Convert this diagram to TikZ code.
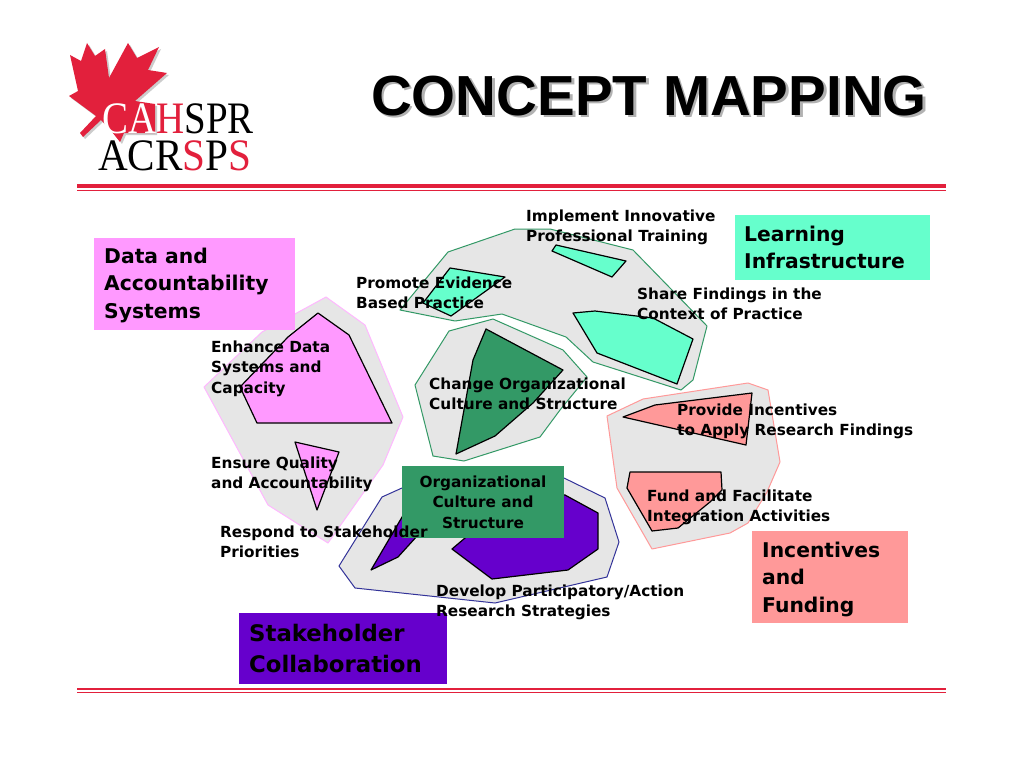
\documentclass[tikz,border=0pt]{standalone}
\usepackage{fontspec}
\setmainfont{DejaVu Sans}
\newfontfamily\titlefont{Liberation Sans}
\newfontfamily\logofont{Liberation Serif}
\usetikzlibrary{positioning}
\definecolor{rulered}{RGB}{226,32,60}
\definecolor{hullgray}{RGB}{230,230,230}
\definecolor{datapink}{RGB}{255,153,255}
\definecolor{learngreen}{RGB}{102,255,204}
\definecolor{orggreen}{RGB}{51,153,102}
\definecolor{fundsalmon}{RGB}{255,153,153}
\definecolor{stakepurple}{RGB}{102,0,204}
\definecolor{stakenavy}{RGB}{51,51,153}

\begin{document}
\begin{tikzpicture}[x=1pt,y=-1pt,line join=round]
    % Styles
    \tikzset{hull/.style={fill=hullgray,draw=#1,line width=1pt}}
    \tikzset{cluster/.style={fill=#1,draw=black,line width=1.2pt}}
    \tikzset{legend/.style={anchor=north west,inner sep=0pt,align=left,font=\bfseries\fontsize{20.3}{27.3}\selectfont}}
    \tikzset{term/.style={anchor=north west,inner sep=0pt,align=left,font=\bfseries\fontsize{15.3}{20.6}\selectfont}}
    \tikzset{logotext/.style={anchor=base west,inner sep=0pt,font=\logofont\fontsize{45}{45}\selectfont}}
    \tikzset{titletext/.style={inner sep=0pt,font=\titlefont\bfseries\fontsize{56.5}{58}\selectfont}}

    % Page
    \useasboundingbox (0,0) rectangle (1024,768);
    \fill[white] (0,0) rectangle (1024,768);

    % Logo
    \fill[gray!40,shift={(2,2)}] (70,55) -- (81,61) -- (87,43) -- (95,56) -- (105,49) -- (109,78) -- (128,43) -- (137,58) -- (159,47) -- (148,70) -- (167,73) -- (135,101) -- (155,104) -- (155,133) -- (124,133) -- (120,142) -- (112,132) -- (101,120) -- (83,137) -- (80,133) -- (96,116) -- (69,96) -- (78,91) -- cycle;
    \fill[rulered] (70,55) -- (81,61) -- (87,43) -- (95,56) -- (105,49) -- (109,78) -- (128,43) -- (137,58) -- (159,47) -- (148,70) -- (167,73) -- (135,101) -- (155,104) -- (155,133) -- (124,133) -- (120,142) -- (112,132) -- (101,120) -- (83,137) -- (80,133) -- (96,116) -- (69,96) -- (78,91) -- cycle;
    \node[logotext,xscale=0.865,text=white] (logoA) at (102,133) {CA\textcolor{rulered}{H}\textcolor{black}{SPR}};
    \node[logotext,xscale=0.915] (logoB) at (98,170) {ACR\textcolor{rulered}{S}P\textcolor{rulered}{S}};

    % Title
    \node[titletext,text=gray!60] (titleshadow) at (651.5,98.5) {CONCEPT MAPPING};
    \node[titletext] (title) at (649,96) {CONCEPT MAPPING};

    % Rules
    \fill[rulered] (77,184) rectangle (946,188);
    \fill[rulered] (77,190) rectangle (946,191);
    \fill[rulered] (77,688) rectangle (946,690);
    \fill[rulered] (77,692) rectangle (946,693);

    % Hulls
    \draw[hull=datapink!70!white] (204,387) -- (262,332) -- (326,297) -- (365,325) -- (403,417) -- (383,465) -- (328,543) -- (268,505) -- cycle;
    \draw[hull=orggreen] (400,310) -- (448,252) -- (515,229) -- (550,229) -- (633,250) -- (707,326) -- (693,380) -- (681,390) -- (593,362) -- (566,337) -- (502,314) -- (455,321) -- cycle;
    \draw[hull=orggreen] (415,385) -- (449,331) -- (493,319) -- (563,350) -- (587,377) -- (560,410) -- (540,437) -- (464,461) -- (433,456) -- cycle;
    \draw[hull=stakenavy] (339,566) -- (382,497) -- (402,488) -- (564,478) -- (605,498) -- (619,542) -- (607,577) -- (495,603) -- (355,588) -- cycle;
    \draw[hull=fundsalmon] (607,416) -- (643,399) -- (748,383) -- (768,390) -- (780,462) -- (767,492) -- (748,523) -- (730,533) -- (652,549) -- (617,488) -- cycle;

    % Clusters
    \draw[cluster=datapink] (318,313) -- (349,335) -- (392,423) -- (257,423) -- (240,387) -- (288,337) -- cycle;
    \draw[cluster=datapink] (295,442) -- (339,452) -- (317,510) -- cycle;
    \draw[cluster=learngreen] (450,268) -- (505,277) -- (490,288) -- (451,316) -- (423,303) -- cycle;
    \draw[cluster=learngreen] (556,245) -- (626,261) -- (612,277) -- (552,251) -- cycle;
    \draw[cluster=learngreen] (573,313) -- (595,311) -- (653,318) -- (693,339) -- (677,384) -- (597,353) -- cycle;
    \draw[cluster=orggreen] (486,329) -- (563,370) -- (533,403) -- (495,436) -- (456,454) -- (473,360) -- cycle;
    \draw[cluster=stakepurple] (371,570) -- (398,557) -- (418,535) -- (425,515) -- (405,512) -- cycle;
    \draw[cluster=stakepurple] (500,490) -- (565,495) -- (598,513) -- (598,549) -- (568,570) -- (492,579) -- (452,549) -- (465,538) -- cycle;
    \draw[cluster=fundsalmon] (623,417) -- (655,405) -- (752,393) -- (746,445) -- cycle;
    \draw[cluster=fundsalmon] (630,472) -- (721,472) -- (722,490) -- (710,502) -- (678,528) -- (652,531) -- (627,488) -- cycle;

    % Legend boxes
    \fill[datapink] (94,238) rectangle (295,330);
    \fill[learngreen] (735,215) rectangle (930,280);
    \fill[fundsalmon] (752,531) rectangle (908,623);
    \fill[stakepurple] (239,613) rectangle (447,684);
    \fill[orggreen] (402,466) rectangle (564,538);
    \node[legend] (datalabel) at (104,248) {Data and\\Accountability\\Systems};
    \node[legend] (learnlabel) at (744,226) {Learning\\Infrastructure};
    \node[legend] (fundlabel) at (762,542) {Incentives\\and\\Funding};
    \node[legend,font=\bfseries\fontsize{22.8}{31}\selectfont] (stakelabel) at (249,624) {Stakeholder\\Collaboration};
    \node[term,align=center,anchor=north] (orglabel) at (483,475.5) {Organizational\\Culture and\\Structure};

    % Statement labels
    \node[term] (implement) at (526,209.5) {Implement Innovative\\Professional Training};
    \node[term] (promote) at (356,276.5) {Promote Evidence\\Based Practice};
    \node[term] (share) at (637,287.5) {Share Findings in the\\Context of Practice};
    \node[term] (enhance) at (211,340.5) {Enhance Data\\Systems and\\Capacity};
    \node[term] (change) at (429,377.5) {Change Organizational\\Culture and Structure};
    \node[term] (provide) at (677,403.5) {Provide Incentives\\to Apply Research Findings};
    \node[term] (ensure) at (211,456.5) {Ensure Quality\\and Accountability};
    \node[term] (fund) at (647,489.5) {Fund and Facilitate\\Integration Activities};
    \node[term] (respond) at (220,525.5) {Respond to Stakeholder\\Priorities};
    \node[term] (develop) at (436,584.5) {Develop Participatory/Action\\Research Strategies};
\end{tikzpicture}
\end{document}
